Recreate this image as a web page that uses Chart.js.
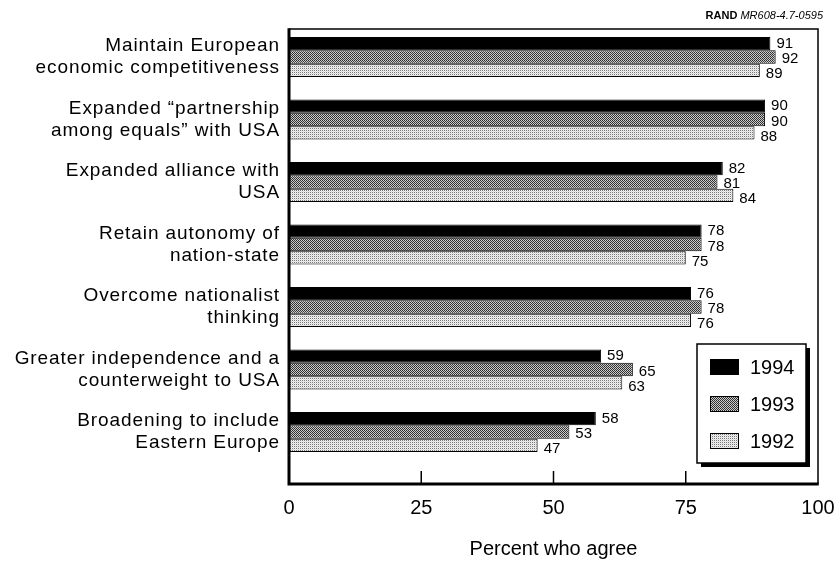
<!DOCTYPE html>
<html><head><meta charset="utf-8">
<script src="https://cdn.jsdelivr.net/npm/chart.js@4/dist/chart.umd.min.js"></script>
<style>html,body{margin:0;padding:0;background:#fff;}canvas{display:block;}</style>
</head><body>
<canvas id="c" width="835" height="567"></canvas>
<script>
// ---- data ----
const categories = [
  ["Maintain European", "economic competitiveness"],
  ["Expanded \u201Cpartnership", "among equals\u201D with USA"],
  ["Expanded alliance with", "USA"],
  ["Retain autonomy of", "nation-state"],
  ["Overcome nationalist", "thinking"],
  ["Greater independence and a", "counterweight to USA"],
  ["Broadening to include", "Eastern Europe"]
];
const years = ["1994", "1993", "1992"];
const values1994 = [91, 90, 82, 78, 76, 59, 58];
const values1993 = [92, 90, 81, 78, 78, 65, 53];
const values1992 = [89, 88, 84, 75, 76, 63, 47];
const xTicks = [0, 25, 50, 75, 100];
const axisTitle = "Percent who agree";
const sourceBold = "RAND";
const sourceItalic = "MR608-4.7-0595";

// ---- styling ----
const FONT = "'Liberation Sans', Arial, Helvetica, sans-serif";
function makePattern(cells) {
  const n = cells.length;
  const cv = document.createElement('canvas');
  cv.width = n; cv.height = n;
  const cx = cv.getContext('2d');
  for (let r = 0; r < n; r++) for (let c = 0; c < n; c++) {
    cx.fillStyle = cells[r][c]; cx.fillRect(c, r, 1, 1);
  }
  return cv.getContext('2d').createPattern(cv, 'repeat');
}
const pat1993 = makePattern([["#2a2a2a", "#d0d0d0"], ["#c4c4c4", "#3a3a3a"]]);
const pat1992 = makePattern([["#777777", "#f2f2f2"], ["#f2f2f2", "#d8d8d8"]]);
const fills = ["#000000", pat1993, pat1992];
const labelYOffset = [0, 2, 4];

const seriesValues = [values1994, values1993, values1992];
const datasets = seriesValues.map((vals, d) => ({
  label: years[d],
  data: vals.map((v, i) => ({ x: v, y: i })),
  backgroundColor: fills[d],
  borderColor: "#000",
  borderWidth: 1,
  borderSkipped: false,
  categoryPercentage: 0.64,
  barPercentage: 1.0
}));

const customDraw = {
  id: 'customDraw',
  afterDatasetsDraw(chart) {
    const ctx = chart.ctx;
    const ca = chart.chartArea;
    const xs = chart.scales.x, ys = chart.scales.y;
    ctx.save();
    // frame
    ctx.strokeStyle = "#000";
    ctx.lineWidth = 1.5;
    ctx.beginPath();
    ctx.moveTo(ca.left, ca.top); ctx.lineTo(ca.right, ca.top); ctx.lineTo(ca.right, ca.bottom);
    ctx.stroke();
    ctx.lineWidth = 3;
    ctx.beginPath();
    ctx.moveTo(ca.left, ca.top - 0.75); ctx.lineTo(ca.left, ca.bottom); ctx.lineTo(ca.right + 0.75, ca.bottom);
    ctx.stroke();
    // inward tick marks
    ctx.lineWidth = 1.5;
    xTicks.slice(1, -1).forEach(v => {
      const x = xs.getPixelForValue(v);
      ctx.beginPath(); ctx.moveTo(x, ca.bottom - 13); ctx.lineTo(x, ca.bottom); ctx.stroke();
    });
    // value labels
    ctx.fillStyle = "#000";
    ctx.font = "15px " + FONT;
    ctx.textAlign = "left";
    ctx.textBaseline = "middle";
    chart.data.datasets.forEach((ds, d) => {
      const meta = chart.getDatasetMeta(d);
      meta.data.forEach((bar, i) => {
        ctx.fillText(String(seriesValues[d][i]), bar.x + 6, bar.y + labelYOffset[d]);
      });
    });
    // category labels
    ctx.font = "19px " + FONT;
    ctx.letterSpacing = "0.9px";
    ctx.textAlign = "right";
    categories.forEach((lines, i) => {
      const y = ys.getPixelForValue(i);
      lines.forEach((ln, j) => {
        ctx.fillText(ln, ca.left - 9, y + (j - (lines.length - 1) / 2) * 22);
      });
    });
    ctx.letterSpacing = "0px";
    ctx.restore();
  },
  afterDraw(chart) {
    const ctx = chart.ctx;
    const ca = chart.chartArea;
    ctx.save();
    // legend box
    const w = 109, h = 119;
    const bx = ca.right - 12 - w, by = ca.bottom - 21 - h;
    ctx.fillStyle = "#000";
    ctx.fillRect(bx + 4, by + 4, w, h);
    ctx.fillStyle = "#fff";
    ctx.fillRect(bx, by, w, h);
    ctx.strokeStyle = "#000";
    ctx.lineWidth = 1.5;
    ctx.strokeRect(bx, by, w, h);
    ctx.font = "20px " + FONT;
    ctx.textAlign = "left";
    ctx.textBaseline = "middle";
    chart.data.datasets.forEach((ds, d) => {
      const sy = by + 15 + d * 37;
      ctx.fillStyle = ds.backgroundColor;
      ctx.fillRect(bx + 13, sy, 29, 16);
      ctx.lineWidth = 1;
      ctx.strokeRect(bx + 13.5, sy + 0.5, 28, 15);
      ctx.fillStyle = "#000";
      ctx.fillText(ds.label, bx + 53, sy + 9);
    });
    // source note
    ctx.textBaseline = "alphabetic";
    ctx.textAlign = "left";
    ctx.font = "italic 11px " + FONT;
    const wi = ctx.measureText(sourceItalic).width;
    ctx.font = "bold 11px " + FONT;
    const wb = ctx.measureText(sourceBold + " ").width;
    const right = 823;
    ctx.fillText(sourceBold + " ", right - wi - wb, 19);
    ctx.font = "italic 11px " + FONT;
    ctx.fillText(sourceItalic, right - wi, 19);
    ctx.restore();
  }
};

new Chart(document.getElementById('c'), {
  type: 'bar',
  data: { datasets },
  options: {
    indexAxis: 'y',
    responsive: false,
    animation: false,
    devicePixelRatio: 1,
    layout: { padding: { top: 29, right: 0, bottom: 0, left: 0 } },
    plugins: { legend: { display: false }, tooltip: { enabled: false } },
    scales: {
      x: {
        type: 'linear', position: 'bottom', min: 0, max: 100,
        afterBuildTicks: s => { s.ticks = xTicks.map(v => ({ value: v })); },
        grid: { display: false, drawTicks: false },
        border: { display: false },
        ticks: { font: { family: FONT, size: 20 }, color: "#000", padding: 12, maxRotation: 0, autoSkip: false },
        title: { display: true, text: axisTitle, font: { family: FONT, size: 20 }, color: "#000", padding: { top: 0, bottom: 6 } },
        afterFit: s => { s.height = 83; s.paddingRight = 17; s.paddingLeft = 0; }
      },
      y: {
        type: 'linear', position: 'left', reverse: true, offset: false, min: -0.448, max: 6.832,
        afterBuildTicks: s => { s.ticks = categories.map((c, i) => ({ value: i })); },
        grid: { display: false, drawTicks: false, offset: false },
        border: { display: false },
        ticks: { display: false },
        afterFit: s => { s.width = 289; }
      }
    }
  },
  plugins: [customDraw]
});
</script>
</body></html>
